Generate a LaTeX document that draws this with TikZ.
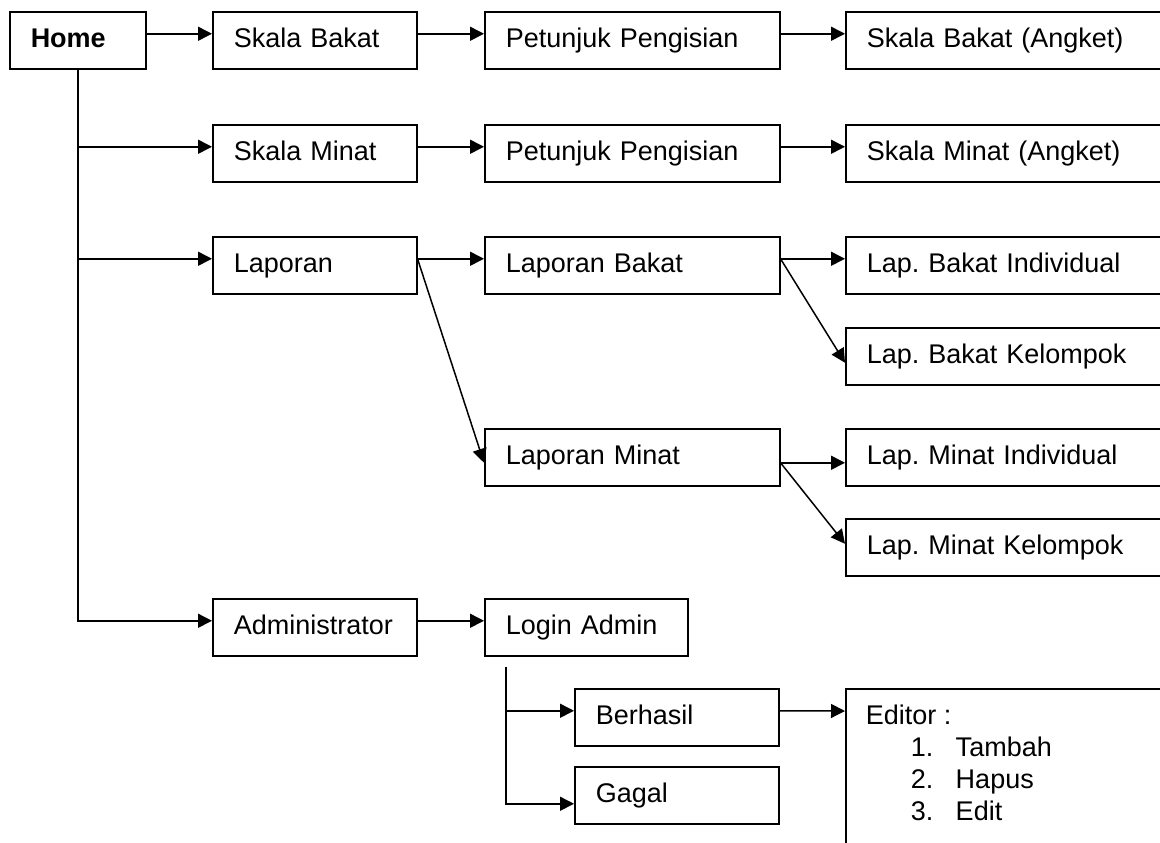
\documentclass[tikz,border=0pt]{standalone}
\usepackage{fontspec}
\setmainfont{Liberation Sans}
\usepackage{tikz}
\usetikzlibrary{arrows.meta}
\frenchspacing

\begin{document}
\begin{tikzpicture}[x=0.5pt, y=-0.5pt, line width=0.75pt,
    every node/.style={font=\fontsize{13.5pt}{16pt}\selectfont},
    box/.style={draw, rectangle, anchor=north west, align=left,
        inner xsep=10.5pt, inner ysep=0pt, minimum height=28.5pt,
        text height=10.5pt, text depth=3pt},
    narrow/.style={box, text width=47pt},
    mid/.style={box, text width=81pt},
    wide/.style={box, text width=126.5pt},
    open/.style={box, text width=160pt},
    arr/.style={-{Triangle[length=7pt, width=7pt]}},
    lift/.style={yshift=3.25pt}]
    \useasboundingbox (0,0) rectangle (1160,842);
    \clip (0,0) rectangle (1160,842);

    \node[narrow] (home) at (9,11) {\textbf{Home}};
    \node[mid] (sb) at (212,11) {Skala Bakat};
    \node[wide] (pb) at (484,11) {Petunjuk Pengisian};
    \node[open] (sba) at (845,11) {Skala Bakat (Angket)};
    \node[mid] (sm) at (212,124) {Skala Minat};
    \node[wide] (pm) at (484,124) {Petunjuk Pengisian};
    \node[open] (sma) at (845,124) {Skala Minat (Angket)};
    \node[mid] (lap) at (212,236) {Laporan};
    \node[wide] (lb) at (484,236) {Laporan Bakat};
    \node[open] (lbi) at (845,236) {Lap. Bakat Individual};
    \node[open] (lbk) at (845,327) {Lap. Bakat Kelompok};
    \node[wide] (lm) at (484,428) {Laporan Minat};
    \node[open] (lmi) at (845,428) {Lap. Minat Individual};
    \node[open] (lmk) at (845,518) {Lap. Minat Kelompok};
    \node[mid] (adm) at (212,598) {Administrator};
    \node[box, text width=80.5pt] (la) at (484,598) {Login Admin};
    \node[mid] (ok) at (574,688) {Berhasil};
    \node[mid] (fail) at (574,766) {Gagal};
    \node[draw, anchor=north west, inner xsep=10pt, inner ysep=0pt,
        text height=18pt, text depth=80pt] (ed) at (845,688)
        {\parbox[t]{200pt}{Editor :\\
        \hspace*{22.5pt}\makebox[22.5pt][l]{1.}Tambah\\
        \hspace*{22.5pt}\makebox[22.5pt][l]{2.}Hapus\\
        \hspace*{22.5pt}\makebox[22.5pt][l]{3.}Edit}};

    \coordinate (sm-in) at ([lift]sm.west);
    \coordinate (lap-in) at ([lift]lap.west);
    \coordinate (adm-in) at ([lift]adm.west);
    \coordinate (la-foot) at ([xshift=11pt, yshift=-5pt]la.south west);
    \coordinate (ok-in) at ([lift]ok.west);
    \coordinate (fail-in) at ([yshift=-4.25pt]fail.west);

    \draw[arr] ([lift]home.east) -- ([lift]sb.west);
    \draw[arr] ([lift]sb.east) -- ([lift]pb.west);
    \draw[arr] ([lift]pb.east) -- ([lift]sba.west);
    \draw[arr] ([lift]sm.east) -- ([lift]pm.west);
    \draw[arr] ([lift]pm.east) -- ([lift]sma.west);
    \draw[arr] ([lift]lap.east) -- ([lift]lb.west);
    \draw[arr] ([lift]lb.east) -- ([lift]lbi.west);
    \draw[arr] ([lift]lb.east) -- ([yshift=-3.25pt]lbk.west);
    \draw[arr] ([lift]lap.east) -- ([yshift=-2.75pt]lm.west);
    \draw[arr] ([yshift=-2.75pt]lm.east) -- ([yshift=-2.75pt]lmi.west);
    \draw[arr] ([yshift=-2.75pt]lm.east) -- ([yshift=1.75pt]lmk.west);
    \draw[arr] ([lift]adm.east) -- ([lift]la.west);

    \draw[arr] (home.south) |- (adm-in);
    \draw[arr] (home.south |- sm-in) -- (sm-in);
    \draw[arr] (home.south |- lap-in) -- (lap-in);

    \draw[arr] (la-foot) |- (fail-in);
    \draw[arr] (la-foot |- ok-in) -- (ok-in);
    \draw[arr] ([lift]ok.east) -- ([yshift=-11.5pt]ed.north west);
\end{tikzpicture}
\end{document}
